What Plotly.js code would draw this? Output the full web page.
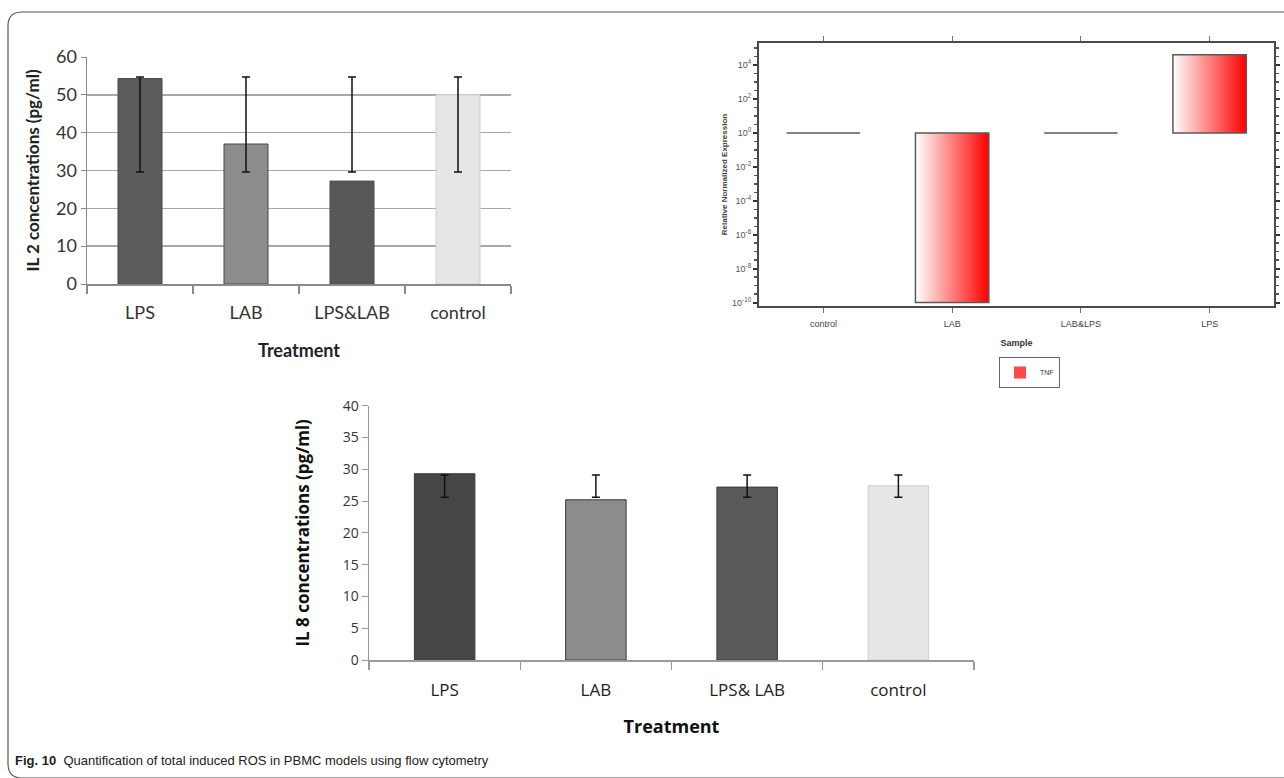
<!DOCTYPE html>
<html>
<head>
<meta charset="utf-8">
<script src="https://cdn.plot.ly/plotly-3.0.1.min.js"></script>
<style>
  html, body { margin: 0; padding: 0; background: #ffffff; }
  #chart { width: 1284px; height: 778px; }
</style>
</head>
<body>
<div id="chart"></div>
<script>
// ---------------- DATA ----------------
// Panel A: IL 2 concentrations (pg/ml)
const il2Categories = ['LPS', 'LAB', 'LPS&LAB', 'control'];
const il2Values = [54.3, 37.0, 27.2, 50.0];
const il2ErrUpper = [54.7, 54.7, 54.7, 54.7];
const il2ErrLower = [29.6, 29.6, 29.6, 29.6];
const il2Colors = ['#5c5c5c', '#8c8c8c', '#585858', '#e6e6e6'];

// Panel B: TNF relative normalized expression (log scale, baseline = 1)
const tnfSamples = ['control', 'LAB', 'LAB&LPS', 'LPS'];
const tnfExpression = [1, 1e-10, 1, 4e4];
const tnfBaseline = [1, 1, 1, 1];
const tnfTickVals = [1e-10, 1e-8, 1e-6, 1e-4, 1e-2, 1, 1e2, 1e4];
const tnfTickText = ['10<sup>-10</sup>', '10<sup>-8</sup>', '10<sup>-6</sup>', '10<sup>-4</sup>',
                     '10<sup>-2</sup>', '10<sup>0</sup>', '10<sup>2</sup>', '10<sup>4</sup>'];

// Panel C: IL 8 concentrations (pg/ml)
const il8Categories = ['LPS', 'LAB', 'LPS& LAB', 'control'];
const il8Values = [29.3, 25.2, 27.2, 27.4];
const il8ErrUpper = [29.1, 29.1, 29.1, 29.1];
const il8ErrLower = [25.6, 25.6, 25.6, 25.6];
const il8Colors = ['#464646', '#8c8c8c', '#5a5a5a', '#e6e6e6'];

// ---------------- HELPERS ----------------
const W = 1284, H = 778;
const px = x => x / W;
const py = y => 1 - y / H;

const traces = [];

// Panel A bars
traces.push({
  type: 'bar', xaxis: 'x', yaxis: 'y',
  x: il2Categories, y: il2Values, width: 0.415,
  marker: { color: il2Colors, line: { color: il2Colors.map(c => c === '#e6e6e6' ? '#d0d0d0' : '#4a4a4a'), width: 1 } },
  error_y: {
    type: 'data', symmetric: false,
    array: il2Values.map((v, i) => il2ErrUpper[i] - v),
    arrayminus: il2Values.map((v, i) => v - il2ErrLower[i]),
    color: '#111111', thickness: 1.5, width: 4
  },
  showlegend: false, hoverinfo: 'x+y'
});

// Panel B gradient bars (white -> red), drawn as overlapping thin vertical slices
const tnfWidth = 0.57;
const nSlices = 30;
const step = tnfWidth / nSlices;
for (let i = 0; i < nSlices; i++) {
  const t = (i + 0.5) / nSlices;
  const g = Math.round(255 * (1 - t));
  traces.push({
    type: 'bar', xaxis: 'x2', yaxis: 'y2',
    x: tnfSamples,
    base: tnfBaseline,
    y: tnfExpression.map((v, k) => v - tnfBaseline[k]),
    width: i < nSlices - 1 ? step * 2 : step,
    offset: -tnfWidth / 2 + i * step,
    marker: { color: `rgb(255,${g},${g})`, line: { width: 0 } },
    name: 'TNF',
    showlegend: i === Math.round(nSlices * 0.7),
    hoverinfo: 'skip'
  });
}
// Panel B outline (also draws the flat bars at baseline)
traces.push({
  type: 'bar', xaxis: 'x2', yaxis: 'y2',
  x: tnfSamples,
  base: tnfBaseline,
  y: tnfExpression.map((v, k) => v - tnfBaseline[k]),
  width: tnfWidth, offset: -tnfWidth / 2,
  marker: { color: 'rgba(0,0,0,0)', line: { color: '#5a5a5a', width: 1.5 } },
  showlegend: false, name: 'TNF', hoverinfo: 'x+text',
  text: tnfExpression.map(v => v.toExponential(1)), textposition: 'none'
});

// Panel C bars
traces.push({
  type: 'bar', xaxis: 'x3', yaxis: 'y3',
  x: il8Categories, y: il8Values, width: 0.40,
  marker: { color: il8Colors, line: { color: il8Colors.map(c => c === '#e6e6e6' ? '#cfcfcf' : '#3a3a3a'), width: 1 } },
  error_y: {
    type: 'data', symmetric: false,
    array: il8Values.map((v, i) => il8ErrUpper[i] - v),
    arrayminus: il8Values.map((v, i) => v - il8ErrLower[i]),
    color: '#111111', thickness: 1.5, width: 4
  },
  showlegend: false, hoverinfo: 'x+y'
});

const fontA = 'Lato, "Open Sans", sans-serif';
const fontC = '"Open Sans", "Noto Sans", sans-serif';
const fontB = '"Liberation Sans", Arial, sans-serif';

const layout = {
  width: W, height: H,
  margin: { l: 0, r: 0, t: 0, b: 0 },
  paper_bgcolor: '#ffffff', plot_bgcolor: 'rgba(0,0,0,0)',
  barmode: 'overlay',
  showlegend: true,
  legend: {
    x: px(999), y: py(357), xanchor: 'left', yanchor: 'top',
    bgcolor: '#ffffff', bordercolor: '#666666', borderwidth: 1,
    font: { family: fontB, size: 7, color: '#333' },
    itemwidth: 30, tracegroupgap: 0
  },

  // Panel A
  xaxis: {
    domain: [px(87), px(511)], anchor: 'y', type: 'category',
    tickson: 'boundaries', ticks: 'outside', ticklen: 8, tickcolor: '#8a8a8a', tickwidth: 1.2,
    showline: true, linecolor: '#8a8a8a', linewidth: 1.5,
    tickfont: { family: fontA, size: 18, color: '#333333' }, ticklabelstandoff: 12,
    title: { text: '<b>Treatment</b>', font: { family: fontA, size: 18, color: '#222' }, standoff: 22 },
    fixedrange: true
  },
  yaxis: {
    domain: [py(284), py(57)], anchor: 'x', range: [0, 60], dtick: 10,
    showgrid: true, gridcolor: '#a8a8a8', gridwidth: 1.5, zeroline: false,
    showline: true, linecolor: '#8a8a8a', linewidth: 1.5,
    ticks: 'outside', ticklen: 5, tickcolor: '#8a8a8a',
    tickfont: { family: fontA, size: 18, color: '#333333' },
    title: { text: '<b>IL 2 concentrations (pg/ml)</b>', font: { family: fontA, size: 17, color: '#222' }, standoff: 12 },
    fixedrange: true
  },

  // Panel B
  xaxis2: {
    domain: [px(759), px(1274)], anchor: 'y2', type: 'category',
    ticks: 'outside', ticklen: 5, tickcolor: '#777', mirror: 'ticks',
    showline: true, linecolor: '#4a4a4a', linewidth: 2,
    tickfont: { family: fontB, size: 9, color: '#444' }, ticklabelstandoff: 3,
    title: { text: '<b>Sample</b>', font: { family: fontB, size: 9, color: '#333' }, standoff: 12 },
    fixedrange: true
  },
  yaxis2: {
    domain: [py(306), py(43)], anchor: 'x2', type: 'log', range: [-10.2, 5.3],
    tickvals: tnfTickVals, ticktext: tnfTickText,
    ticks: 'outside', ticklen: 4, tickwidth: 2, tickcolor: '#333', mirror: 'ticks',
    minor: { dtick: 0.5, ticks: 'outside', ticklen: 3, tickcolor: '#555', tickwidth: 1.5 },
    showgrid: false, zeroline: false,
    showline: true, linecolor: '#4a4a4a', linewidth: 2,
    tickfont: { family: fontB, size: 9, color: '#555' },
    title: { text: '<b>Relative Normalized Expression</b>', font: { family: fontB, size: 8, color: '#444' }, standoff: 3 },
    fixedrange: true
  },

  // Panel C
  xaxis3: {
    domain: [px(369), px(974)], anchor: 'y3', type: 'category',
    tickson: 'boundaries', ticks: 'outside', ticklen: 8, tickcolor: '#9a9a9a', tickwidth: 1.2,
    showline: true, linecolor: '#9a9a9a', linewidth: 1.5,
    tickfont: { family: fontC, size: 17, color: '#222222' }, ticklabelstandoff: 14,
    title: { text: '<b>Treatment</b>', font: { family: fontC, size: 18, color: '#111' }, standoff: 20 },
    fixedrange: true
  },
  yaxis3: {
    domain: [py(660), py(405.7)], anchor: 'x3', range: [0, 40], dtick: 5,
    showgrid: false, zeroline: false,
    showline: true, linecolor: '#9a9a9a', linewidth: 1.5,
    ticks: 'outside', ticklen: 6, tickcolor: '#9a9a9a',
    tickfont: { family: fontC, size: 14, color: '#333333' },
    title: { text: '<b>IL 8 concentrations (pg/ml)</b>', font: { family: fontC, size: 17, color: '#111' }, standoff: 28 },
    fixedrange: true
  },

  shapes: [
    {
      type: 'path', xref: 'paper', yref: 'paper',
      path: `M ${px(1300)},${py(12)} L ${px(22)},${py(12)} Q ${px(8)},${py(12)} ${px(8)},${py(26)} L ${px(8)},${py(764)} Q ${px(8)},${py(778)} ${px(22)},${py(778)} L ${px(1300)},${py(778)}`,
      line: { color: '#555555', width: 1.2 }, layer: 'below'
    }
  ],

  annotations: [
    {
      xref: 'paper', yref: 'paper', x: px(13), y: py(760), xanchor: 'left', yanchor: 'middle',
      showarrow: false, align: 'left',
      text: '<b>Fig. 10</b>  Quantification of total induced ROS in PBMC models using flow cytometry',
      font: { family: fontB, size: 13, color: '#222' }
    }
  ]
};

Plotly.newPlot('chart', traces, layout, { displayModeBar: false, staticPlot: true });
</script>
</body>
</html>
